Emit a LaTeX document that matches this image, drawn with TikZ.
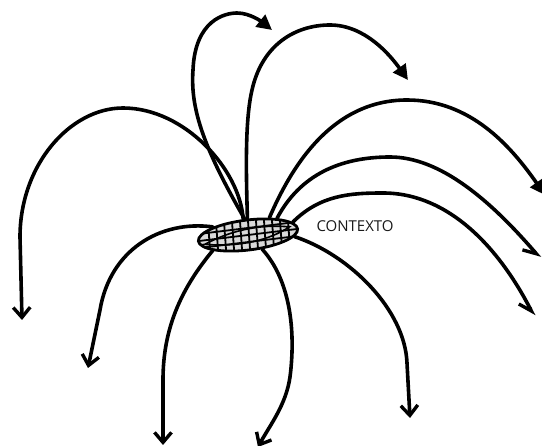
\documentclass[tikz,border=0pt]{standalone}
\usepackage{fontspec}
\setmainfont{Open Sans}
\usetikzlibrary{arrows.meta,shapes.geometric,positioning}
\begin{document}
\begin{tikzpicture}[x=1pt,y=1pt,
    curve/.style={line width=3.6pt, line cap=round},
    vtip/.style={-{Straight Barb[length=10pt,width=17pt,line width=3.4pt]}},
    halftip/.style={-{Straight Barb[length=12pt,width=16pt,line width=3.4pt,right]}},
    tritip/.style={-{Triangle[length=15pt,width=15pt]}},
    ctxbox/.style={ellipse, draw, line width=2.8pt, fill=gray!30, minimum width=100pt,
        minimum height=30pt, inner sep=0pt, rotate=7,
        path picture={
            \begin{scope}[shift={(path picture bounding box.center)}, rotate=7]
                \foreach \i in {-40,-32,...,40}
                    \draw[line width=1.8pt] (\i,-20) -- (\i+2,20);
                \foreach \j in {-7,0,7}
                    \draw[line width=1.8pt] (-55,\j) -- (55,\j);
                \draw[line width=1.6pt] (-44,-4) .. controls (-10,9) and (20,8) .. (42,3)
                    .. controls (20,-8) and (-10,-11) .. cycle;
            \end{scope}
        }}]
    \useasboundingbox (0,0) rectangle (542,-446);
    \node[ctxbox] (ctx) at (248,-235) {};
    \node[font=\fontsize{15}{18}\selectfont, text=black!90, anchor=west] (lbl) at (313,-226) {CONTEXTO};

    \coordinate (e1) at (22,-320);
    \coordinate (e2) at (88,-368);
    \coordinate (e3) at (163,-445);
    \coordinate (e4) at (258,-447);
    \coordinate (e5) at (410,-418);
    \coordinate (e6) at (272,-30);
    \coordinate (e7) at (408,-80);
    \coordinate (e8) at (545,-195);
    \coordinate (e9) at (540,-258);
    \coordinate (e10) at (534,-316);

    \draw[curve, vtip] (ctx.100) .. controls (240,-170) and (185,-108) .. (123,-108)
        .. controls (70,-108) and (20,-165) .. (20,-237) -- (e1);
    \draw[curve, vtip] (ctx.160) .. controls (160,-220) and (110,-250) .. (100,-310) -- (e2);
    \draw[curve, vtip] (ctx.197) .. controls (180,-290) and (163,-330) .. (163,-380) -- (e3);
    \draw[curve, vtip] (ctx.-52) .. controls (290,-280) and (296,-330) .. (290,-377)
        .. controls (286,-405) and (270,-425) .. (e4);
    \draw[curve, vtip] (ctx.-9) .. controls (350,-255) and (405,-310) .. (407,-363) -- (e5);
    \draw[curve, tritip] (ctx.95) .. controls (205,-150) and (190,-110) .. (193,-70)
        .. controls (195,-20) and (225,-13) .. (237,-13)
        .. controls (250,-13) and (262,-22) .. (e6);
    \draw[curve, tritip] (ctx.85) .. controls (246,-170) and (245,-120) .. (252,-90)
        .. controls (262,-45) and (295,-25) .. (330,-25)
        .. controls (365,-25) and (390,-55) .. (e7);
    \draw[curve, tritip] (ctx.32) .. controls (290,-170) and (330,-100) .. (407,-100)
        .. controls (470,-100) and (510,-145) .. (e8);
    \draw[curve, halftip] (ctx.23) .. controls (300,-175) and (340,-157) .. (390,-157)
        .. controls (440,-157) and (490,-200) .. (e9);
    \draw[curve, halftip] (ctx.9) .. controls (320,-195) and (350,-193) .. (383,-193)
        .. controls (450,-193) and (500,-250) .. (e10);
\end{tikzpicture}
\end{document}
